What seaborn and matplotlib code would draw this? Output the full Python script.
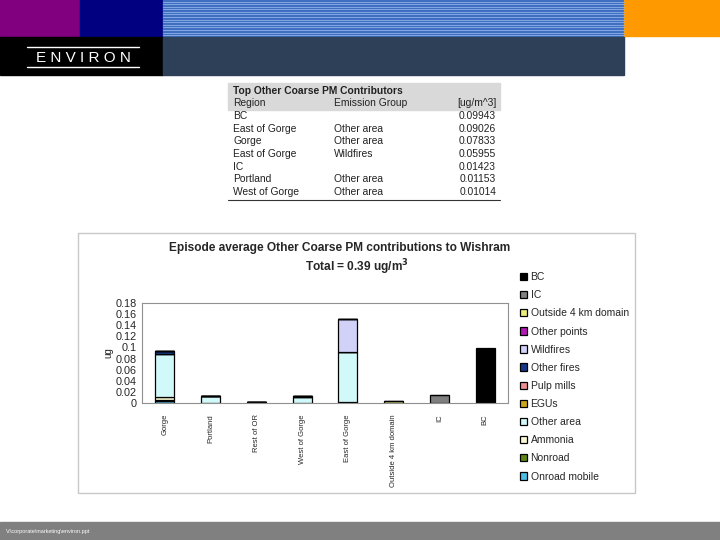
import matplotlib
matplotlib.use("Agg")
import matplotlib.pyplot as plt
from matplotlib.patches import Rectangle
import numpy as np
import seaborn as sns

sns.set_style("white")
plt.rcParams["font.family"] = ["Liberation Sans", "DejaVu Sans"]

# -----------------------------------------------
# data
# -----------------------------------------------
regions = ["Gorge", "Portland", "Rest of OR", "West of Gorge", "East of Gorge",
           "Outside 4 km domain", "IC", "BC"]

# stack order, bottom to top
groups = ["Onroad mobile", "Nonroad", "Ammonia", "Other area", "EGUs", "Pulp mills",
          "Other fires", "Wildfires", "Other points", "Outside 4 km domain", "IC", "BC"]
group_colors = ["#33CCFF", "#669900", "#FFFFCC", "#CCFFFF", "#E6B800", "#FF8080",
                "#003399", "#CCCCFF", "#CC00CC", "#FFFF66", "#808080", "#000000"]

onroad_mobile = [0.003, 0.0005, 0.0, 0.0005, 0.001, 0.0, 0.0, 0.0]
nonroad       = [0.003, 0.0, 0.0, 0.0, 0.001, 0.0, 0.0, 0.0]
ammonia       = [0.004, 0.0, 0.0, 0.0, 0.0, 0.0, 0.0, 0.0]
other_area    = [0.07833, 0.01153, 0.0015, 0.01014, 0.09026, 0.0, 0.0, 0.0]
egus          = [0.0, 0.0, 0.0, 0.0, 0.0, 0.0, 0.0, 0.0]
pulp_mills    = [0.0, 0.0, 0.0, 0.0, 0.0, 0.0, 0.0, 0.0]
other_fires   = [0.005, 0.001, 0.0005, 0.0025, 0.0, 0.0, 0.0, 0.0]
wildfires     = [0.0, 0.0, 0.0, 0.0, 0.05955, 0.0, 0.0, 0.0]
other_points  = [0.0, 0.0, 0.0, 0.0, 0.0, 0.0, 0.0, 0.0]
outside_4km   = [0.0, 0.0, 0.0, 0.0, 0.0, 0.004, 0.0, 0.0]
ic            = [0.0, 0.0, 0.0, 0.0, 0.0, 0.0, 0.01423, 0.0]
bc            = [0.0, 0.0, 0.0, 0.0, 0.0, 0.0, 0.0, 0.09943]
layers = [onroad_mobile, nonroad, ammonia, other_area, egus, pulp_mills,
          other_fires, wildfires, other_points, outside_4km, ic, bc]

# table of top contributors
tbl_region = ["BC", "East of Gorge", "Gorge", "East of Gorge", "IC", "Portland", "West of Gorge"]
tbl_group = ["", "Other area", "Other area", "Wildfires", "", "Other area", "Other area"]
tbl_value = ["0.09943", "0.09026", "0.07833", "0.05955", "0.01423", "0.01153", "0.01014"]

yticks = [0, 0.02, 0.04, 0.06, 0.08, 0.1, 0.12, 0.14, 0.16, 0.18]

# -----------------------------------------------
# slide background
# -----------------------------------------------
fig = plt.figure(figsize=(7.2, 5.4), dpi=100)
bg = fig.add_axes([0, 0, 1, 1], zorder=0)
bg.set_xlim(0, 720)
bg.set_ylim(540, 0)
bg.axis("off")

bg.add_patch(Rectangle((0, 0), 80, 37, color="#800080"))
bg.add_patch(Rectangle((80, 0), 83, 37, color="#000080"))
bg.add_patch(Rectangle((163, 0), 461, 37, color="#3F6FC0"))
for yy in np.arange(1.5, 36, 2.6):
    bg.plot([163, 624], [yy, yy], color="#8FB0E8", lw=0.6)
bg.add_patch(Rectangle((624, 0), 96, 36, color="#FF9900"))
bg.add_patch(Rectangle((0, 37), 163, 38, color="#000000"))
bg.add_patch(Rectangle((163, 37), 461, 38, color="#2E4058"))
bg.plot([27, 139], [47, 47], color="white", lw=1)
bg.plot([27, 139], [67, 67], color="white", lw=1)
bg.text(83, 57.5, "E N V I R O N", color="white", fontsize=11, ha="center", va="center")

# footer
bg.add_patch(Rectangle((0, 522), 720, 18, color="#808080"))
bg.text(6, 531, "V:\\corporate\\marketing\\environ.ppt", color="white", fontsize=4, va="center")

# table
bg.add_patch(Rectangle((228, 83), 272, 27, color="#D9D9D9"))
tkw = dict(fontsize=7.4, color="#222222", va="center")
bg.text(233, 91, "Top Other Coarse PM Contributors", fontweight="bold", **tkw)
bg.text(233, 103, "Region", **tkw)
bg.text(334, 103, "Emission Group", **tkw)
bg.text(496, 103, "[ug/m^3]", ha="right", **tkw)
for i, (r, g, v) in enumerate(zip(tbl_region, tbl_group, tbl_value)):
    yy = 116 + i * 12.7
    bg.text(233, yy, r, **tkw)
    bg.text(334, yy, g, **tkw)
    bg.text(496, yy, v, ha="right", **tkw)
bg.plot([228, 500], [200, 200], color="#333333", lw=0.8)

# chart frame
bg.add_patch(Rectangle((78, 233), 557, 260, facecolor="white", edgecolor="#C8C8C8", lw=1))
bg.text(340, 248, "Episode average Other Coarse PM contributions to Wishram",
        fontsize=8.6, fontweight="bold", ha="center", va="center")
bg.text(357, 267, "Total = 0.39 ug/m$^{\\mathbf{3}}$", fontsize=8.6, fontweight="bold",
        ha="center", va="center")

# -----------------------------------------------
# stacked bars
# -----------------------------------------------
ax = fig.add_axes([142 / 720, 1 - 403 / 540, 366 / 720, 100 / 540], zorder=2)
bottom = np.zeros(len(regions))
for name, vals, col in zip(groups, layers, group_colors):
    sns.barplot(x=regions, y=vals, bottom=bottom, color=col, edgecolor="black",
                linewidth=0.9, width=0.42, errorbar=None, label=name, ax=ax)
    bottom = bottom + np.array(vals)

ax.set_ylim(0, 0.18)
ax.set_yticks(yticks)
ax.set_yticklabels([f"{t:g}" for t in yticks], fontsize=7.8)
ax.set_xlim(-0.5, len(regions) - 0.5)
ax.set_xticks(range(len(regions)))
ax.set_xticklabels(regions, rotation=90, fontsize=5.5, va="top")
ax.tick_params(axis="x", length=0, pad=8)
ax.set_xticks(np.arange(0.5, len(regions) - 0.5), minor=True)
ax.tick_params(axis="x", which="minor", length=3, color="#C0C0C0", direction="out")
ax.tick_params(axis="y", length=3, color="#808080", direction="out", pad=1)
ax.set_ylabel("ug", fontsize=7, labelpad=1)
for s in ax.spines.values():
    s.set_color("#909090")
    s.set_linewidth(0.8)
ax.grid(False)
if ax.get_legend():
    ax.get_legend().remove()

handles, labels = ax.get_legend_handles_labels()
fig.legend(handles[::-1], labels[::-1], loc="upper left",
           bbox_to_anchor=(516 / 720, 1 - 268 / 540), frameon=False, fontsize=7.5,
           handlelength=0.7, handleheight=0.7, handletextpad=0.3, labelspacing=0.78,
           borderaxespad=0)

fig.savefig("out.png", dpi=100)
